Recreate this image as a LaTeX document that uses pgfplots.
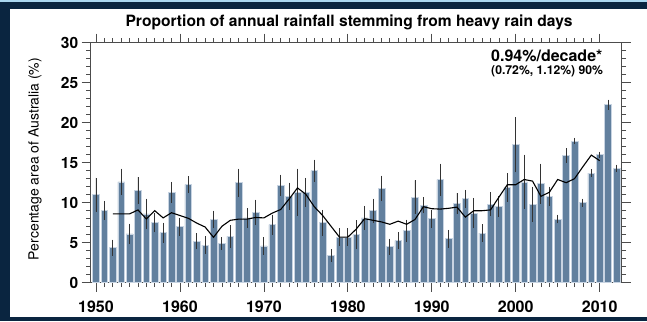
\documentclass[border=0pt]{standalone}
\usepackage{pgfplots}
\usepackage{pgfplotstable}
\pgfplotsset{compat=1.18}
\usepackage{fontspec}
\setmainfont{TeX Gyre Heros}
\definecolor{navy}{RGB}{10,37,64}
\definecolor{lightb}{RGB}{170,215,240}
\definecolor{barc}{RGB}{98,128,158}
\definecolor{bare}{RGB}{200,212,226}
\pgfplotstableread{
year val err
1950 11.0 2.1
1951 9.04 1.2
1952 4.4 1.0
1953 12.6 1.65
1954 6.1 1.3
1955 11.5 1.7
1956 8.6 1.9
1957 7.5 1.2
1958 6.25 1.25
1959 11.3 1.3
1960 7.0 1.1
1961 12.25 1.05
1962 5.2 1.0
1963 4.7 1.1
1964 7.9 1.1
1965 4.9 0.8
1966 5.8 1.4
1967 12.5 1.75
1968 8.1 1.2
1969 8.8 1.6
1970 4.6 1.1
1971 7.25 1.25
1972 12.2 1.3
1973 10.8 1.7
1974 11.3 2.95
1975 11.3 1.8
1976 14.0 1.4
1977 7.5 1.6
1978 3.4 0.8
1979 5.7 1.1
1980 5.7 1.1
1981 6.0 1.8
1982 8.1 1.5
1983 9.0 1.5
1984 11.8 1.6
1985 4.5 1.0
1986 5.25 1.05
1987 6.5 1.4
1988 10.7 2.1
1989 9.7 1.0
1990 8.0 1.1
1991 12.9 2.0
1992 5.5 1.1
1993 9.9 1.3
1994 10.5 1.1
1995 8.7 1.9
1996 6.2 1.1
1997 9.8 1.5
1998 9.5 1.3
1999 11.9 1.8
2000 17.25 3.45
2001 12.6 3.4
2002 9.8 2.2
2003 12.4 2.5
2004 10.8 1.2
2005 7.96 0.55
2006 15.9 0.9
2007 17.7 0.4
2008 10.0 0.5
2009 13.7 0.5
2010 16.0 0.4
2011 22.25 0.65
2012 14.3 0.45
}\bars
\pgfplotstableread{
year mean
1952 8.6
1953 8.6
1954 8.6
1955 9.1
1956 7.96
1957 9.0
1958 8.1
1959 8.75
1960 8.4
1961 8.05
1962 7.45
1963 6.96
1964 5.67
1965 7.05
1966 7.8
1967 7.95
1968 7.95
1969 8.15
1970 8.1
1971 8.7
1972 9.15
1973 10.45
1974 11.85
1975 11.05
1976 9.5
1977 8.4
1978 7.05
1979 5.7
1980 5.7
1981 6.7
1982 8.0
1983 7.8
1984 7.6
1985 7.3
1986 7.7
1987 7.3
1988 7.9
1989 9.5
1990 9.25
1991 9.2
1992 9.3
1993 9.45
1994 8.2
1995 9.0
1996 9.0
1997 9.1
1998 10.7
1999 12.25
2000 12.25
2001 12.9
2002 12.7
2003 10.8
2004 11.3
2005 12.9
2006 12.5
2007 13.0
2008 14.5
2009 15.95
2010 15.25
}\means
\begin{document}
\begin{tikzpicture}
\fill[navy] (0pt,0pt) rectangle (647pt,321pt);
\fill[lightb] (0pt,319pt) rectangle (647pt,321pt);
\fill[white] (10pt,3.7pt) rectangle (647pt,312pt);
\begin{axis}[
  at={(90.7pt,38.3pt)}, anchor=south west,
  scale only axis, width=530.8pt, height=240pt,
  xmin=1949.37, xmax=2012.6, ymin=0, ymax=30,
  xtick={1950,1960,...,2010}, minor x tick num=9,
  ytick={0,5,...,30}, minor y tick num=4,
  tick align=outside,
  major tick length=9pt, minor tick length=4.5pt,
  axis line style={black!70, line width=0.7pt},
  every tick/.style={black!70, line width=0.7pt},
  /pgf/number format/1000 sep={},
  /pgf/number format/assume math mode=true,
  xticklabel style={font=\bfseries\fontsize{16}{16}\selectfont, yshift=-6pt},
  yticklabel style={font=\bfseries\fontsize{15.5}{15.5}\selectfont},
  clip=false,
]
\addplot[ybar, bar width=0.8, fill=barc, draw=bare, line width=0.5pt,
  error bars/.cd, y dir=both, y explicit,
  error bar style={line width=0.9pt, color=black!80}, error mark=none]
  table[x=year, y=val, y error=err] {\bars};
\addplot[black, line width=1.1pt, mark=none] table[x=year, y=mean] {\means};
\end{axis}
\node[anchor=base, font=\bfseries\fontsize{15.6}{16}\selectfont] at (349pt,294pt) {Proportion of annual rainfall stemming from heavy rain days};
\node[anchor=base west, inner sep=0, font=\bfseries\fontsize{16}{16}\selectfont] at (491pt,259.3pt) {0.94\%/decade*};
\node[anchor=base west, inner sep=0, font=\bfseries\fontsize{12.2}{12}\selectfont] at (491pt,246pt) {(0.72\%, 1.12\%) 90\%};
\node[rotate=90, font=\fontsize{14}{14}\selectfont] at (35pt,162pt) {Percentage area of Australia (\%)};
\end{tikzpicture}
\end{document}
